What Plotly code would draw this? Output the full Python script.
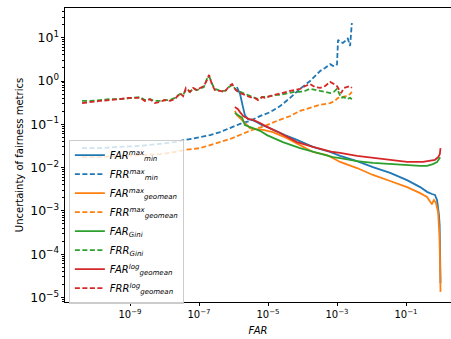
import numpy as np
import plotly.graph_objects as go

# ---- data (log10 of FAR on x, log10 of uncertainty on y) ----
frr_grid_log10 = [-10.39, -10.16, -9.87, -9.58, -9.29, -9.00, -8.71, -8.57, -8.42, -8.28,
                  -8.13, -7.99, -7.84, -7.70, -7.55, -7.46, -7.38, -7.26, -7.17, -7.06,
                  -6.97, -6.86, -6.77, -6.71, -6.62, -6.54, -6.39, -6.25, -6.13, -6.04,
                  -5.93, -5.81, -5.67, -5.52, -5.38, -5.29, -5.17, -5.09, -4.94, -4.80,
                  -4.65, -4.51, -4.36, -4.22, -4.07, -3.93, -3.78, -3.64, -3.49, -3.35,
                  -3.20, -3.09, -3.00, -2.88, -2.80, -2.72, -2.62, -2.57]
frr_log_geomean_log10 = [-0.51, -0.48, -0.46, -0.44, -0.42, -0.39, -0.39, -0.46, -0.42, -0.51,
                         -0.48, -0.44, -0.46, -0.42, -0.28, -0.35, -0.16, -0.25, -0.16, -0.21,
                         -0.16, -0.12, 0.02, 0.14, -0.09, -0.21, -0.23, -0.25, -0.12, -0.07,
                         -0.21, -0.28, -0.32, -0.37, -0.39, -0.44, -0.37, -0.39, -0.35, -0.32,
                         -0.28, -0.25, -0.23, -0.21, -0.18, -0.12, -0.07, -0.14, -0.16, -0.12,
                         -0.02, -0.07, -0.12, -0.28, -0.16, -0.14, -0.12, -0.16]
frr_gini_log10 = [-0.46, -0.46, -0.44, -0.42, -0.42, -0.39, -0.37, -0.44, -0.42, -0.46,
                  -0.46, -0.44, -0.44, -0.39, -0.30, -0.32, -0.21, -0.25, -0.18, -0.21,
                  -0.18, -0.14, 0.05, 0.12, -0.07, -0.18, -0.23, -0.23, -0.14, -0.09,
                  -0.21, -0.25, -0.30, -0.35, -0.39, -0.42, -0.37, -0.37, -0.35, -0.32,
                  -0.32, -0.30, -0.28, -0.25, -0.25, -0.23, -0.18, -0.21, -0.23, -0.25,
                  -0.28, -0.25, -0.18, -0.39, -0.37, -0.42, -0.39, -0.42]

frr_min_x_log10 = [-10.39, -9.87, -9.29, -8.71, -8.13, -7.70, -7.26, -6.97, -6.68, -6.39,
                   -6.10, -5.96, -5.81, -5.52, -5.23, -4.94, -4.65, -4.36, -4.07, -3.78,
                   -3.64, -3.49, -3.35, -3.20, -3.12, -3.03, -3.00, -2.97, -2.91, -2.83,
                   -2.77, -2.69, -2.62, -2.59, -2.57]
frr_min_y_log10 = [-1.55, -1.55, -1.52, -1.50, -1.45, -1.41, -1.34, -1.29, -1.25, -1.18,
                   -1.09, -1.04, -0.99, -0.92, -0.81, -0.72, -0.58, -0.39, -0.18, 0.00,
                   0.12, 0.23, 0.30, 0.39, 0.35, 0.35, 0.39, 0.95, 0.90, 0.88,
                   0.92, 0.99, 0.81, 1.06, 1.34]

frr_geo_x_log10 = [-10.39, -9.87, -9.29, -8.71, -8.13, -7.70, -7.41, -6.97, -6.54, -6.10,
                   -5.52, -5.09, -4.74, -4.36, -4.07, -3.78, -3.49, -3.20, -3.06, -2.97,
                   -2.86, -2.74, -2.62, -2.57]
frr_geo_y_log10 = [-1.76, -1.76, -1.73, -1.71, -1.69, -1.64, -1.59, -1.55, -1.45, -1.34,
                   -1.15, -1.04, -0.92, -0.81, -0.69, -0.62, -0.55, -0.51, -0.46, -0.39,
                   -0.37, -0.35, -0.30, -0.25]

far_min_x_log10 = [-5.90, -5.81, -5.72, -5.67, -5.58, -5.46, -5.32, -5.17, -5.03, -4.80,
                   -4.51, -4.16, -3.70, -3.20, -2.91, -2.42, -1.96, -1.46, -0.97, -0.59,
                   -0.39, -0.25, -0.16, -0.10, -0.07, -0.045, -0.025, -0.01, 0.0]
far_min_y_log10 = [-0.14, -0.30, -0.62, -0.79, -0.88, -0.90, -0.95, -1.02, -1.06, -1.15,
                   -1.25, -1.36, -1.52, -1.64, -1.73, -1.85, -1.99, -2.12, -2.29, -2.45,
                   -2.56, -2.61, -2.63, -2.75, -2.91, -3.09, -3.33, -4.02, -4.67]

far_geo_x_log10 = [-5.96, -5.90, -5.78, -5.67, -5.52, -5.35, -5.14, -4.86, -4.45, -4.07,
                   -3.70, -3.29, -2.91, -2.42, -1.96, -1.46, -0.97, -0.59, -0.39, -0.30,
                   -0.25, -0.19, -0.13, -0.07, -0.03, -0.012, 0.0]
far_geo_y_log10 = [-0.69, -0.79, -0.88, -0.97, -1.09, -1.11, -1.13, -1.18, -1.32, -1.48,
                   -1.64, -1.71, -1.87, -2.01, -2.17, -2.31, -2.45, -2.59, -2.68, -2.79,
                   -2.84, -2.75, -2.82, -3.03, -3.56, -4.25, -4.87]

far_gini_x_log10 = [-5.96, -5.87, -5.75, -5.67, -5.55, -5.43, -5.23, -5.03, -4.57, -4.07,
                    -3.58, -3.12, -2.91, -2.42, -1.96, -1.46, -0.97, -0.59, -0.39, -0.22,
                    -0.10, -0.01]
far_gini_y_log10 = [-0.74, -0.79, -0.85, -1.02, -1.06, -1.09, -1.15, -1.25, -1.41, -1.55,
                    -1.66, -1.76, -1.78, -1.85, -1.89, -1.92, -1.94, -1.96, -1.96, -1.92,
                    -1.87, -1.76]

far_log_x_log10 = [-5.96, -5.87, -5.81, -5.72, -5.67, -5.55, -5.43, -5.23, -5.03, -4.65,
                   -4.16, -3.70, -3.12, -2.91, -2.42, -1.96, -1.46, -0.97, -0.51, -0.30,
                   -0.16, -0.07, -0.02, 0.0]
far_log_y_log10 = [-0.60, -0.65, -0.72, -0.81, -0.83, -0.88, -0.90, -0.97, -1.06, -1.20,
                   -1.41, -1.52, -1.64, -1.66, -1.73, -1.78, -1.82, -1.87, -1.87, -1.85,
                   -1.82, -1.76, -1.69, -1.55]

x_tick_exps = [-9, -7, -5, -3, -1]
y_tick_exps = [1, 0, -1, -2, -3, -4, -5]

BLUE, ORANGE, GREEN, RED = "#1f77b4", "#ff7f0e", "#2ca02c", "#d62728"
DASH = "5px,2.5px"


def p(v):
    return 10 ** np.array(v, dtype=float)


series = [
    ("<i>FAR</i><sup><i>max</i></sup><sub><i>min</i></sub>", far_min_x_log10, far_min_y_log10, BLUE, "solid"),
    ("<i>FRR</i><sup><i>max</i></sup><sub><i>min</i></sub>", frr_min_x_log10, frr_min_y_log10, BLUE, DASH),
    ("<i>FAR</i><sup><i>max</i></sup><sub><i>geomean</i></sub>", far_geo_x_log10, far_geo_y_log10, ORANGE, "solid"),
    ("<i>FRR</i><sup><i>max</i></sup><sub><i>geomean</i></sub>", frr_geo_x_log10, frr_geo_y_log10, ORANGE, DASH),
    ("<i>FAR</i><sub><i>Gini</i></sub>", far_gini_x_log10, far_gini_y_log10, GREEN, "solid"),
    ("<i>FRR</i><sub><i>Gini</i></sub>", frr_grid_log10, frr_gini_log10, GREEN, DASH),
    ("<i>FAR</i><sup><i>log</i></sup><sub><i>geomean</i></sub>", far_log_x_log10, far_log_y_log10, RED, "solid"),
    ("<i>FRR</i><sup><i>log</i></sup><sub><i>geomean</i></sub>", frr_grid_log10, frr_log_geomean_log10, RED, DASH),
]

fig = go.Figure()
for name, xs, ys, col, dash in series:
    fig.add_trace(go.Scatter(x=p(xs), y=p(ys), mode="lines", name=name,
                             line=dict(color=col, width=1.8, dash=dash)))

MINUS = "\u2212"


def exp_label(e):
    return "10<sup>" + (MINUS if e < 0 else "") + str(abs(e)) + "</sup>"


fig.update_layout(
    width=451, height=339,
    margin=dict(l=65, r=0, t=8, b=37, pad=0),
    paper_bgcolor="white", plot_bgcolor="white",
    font=dict(family="DejaVu Sans", size=10, color="black"),
    showlegend=True,
    legend=dict(x=0.01, y=0.552, xanchor="left", yanchor="top",
                bgcolor="rgba(255,255,255,0.8)", bordercolor="#cccccc", borderwidth=1,
                font=dict(size=10, family="DejaVu Sans"),
                itemwidth=30),
)
fig.update_xaxes(
    type="log", range=[-10.884, 0.304], showgrid=False, zeroline=False,
    showline=True, linecolor="black", linewidth=1, mirror=True,
    ticks="outside", ticklen=3, tickcolor="black",
    tickmode="array", tickvals=[10.0 ** e for e in x_tick_exps],
    ticktext=[exp_label(e) for e in x_tick_exps],
    title=dict(text="<i>FAR</i>", standoff=7, font=dict(size=10)),
    automargin=False,
)
fig.update_yaxes(
    type="log", range=[-5.104, 1.686], showgrid=False, zeroline=False,
    showline=True, linecolor="black", linewidth=1, mirror=False,
    ticks="outside", ticklen=3, tickcolor="black",
    dtick=1, exponentformat="power",
    labelalias={"1": exp_label(0), "10": exp_label(1)},
    minor=dict(ticks="outside", ticklen=2, tickcolor="black", dtick="D1", showgrid=False),
    title=dict(text="Uncertainty of fairness metrics", standoff=4, font=dict(size=10)),
    automargin=False,
)

fig.write_html("out.html", config={"displayModeBar": False},
               post_script="document.body.style.margin='0px';document.body.style.overflow='hidden';")
